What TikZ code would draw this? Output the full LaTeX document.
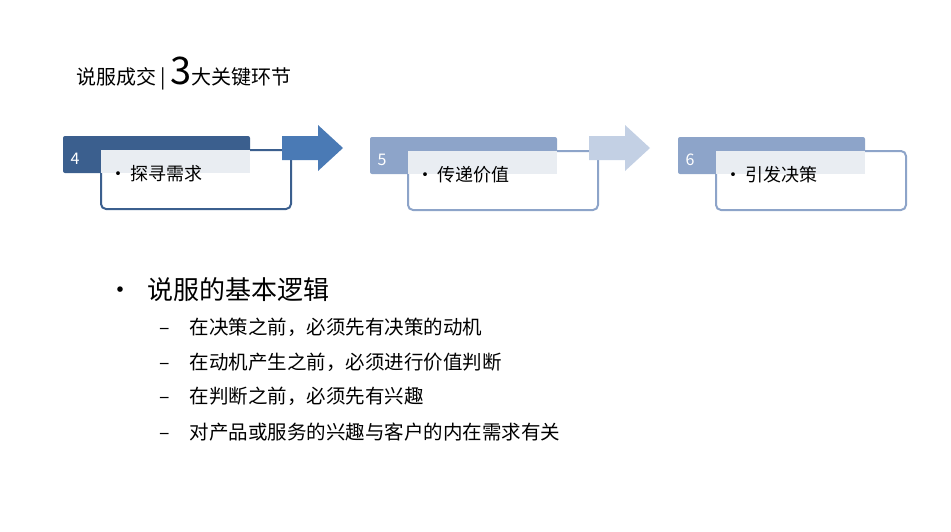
\documentclass[tikz,border=0pt]{standalone}
\usepackage{fontspec}
\setmainfont{Noto Sans CJK SC}
\begin{document}
\begin{tikzpicture}[x=1pt,y=-1pt,
  hdr/.style={rounded corners=2pt},
  card/.style={draw,line width=2pt,rounded corners=5pt,fill=white},
  num/.style={text=white,font=\fontsize{16}{16}\selectfont,anchor=west},
  ctext/.style={font=\fontsize{18}{18}\selectfont,anchor=west},
  item/.style={font=\fontsize{19.5}{20}\selectfont,anchor=west}]
\useasboundingbox (0,0) rectangle (951,531);
\definecolor{dk}{HTML}{3B5F8E}
\definecolor{ar1}{HTML}{4A7AB5}
\definecolor{md}{HTML}{8DA4C9}
\definecolor{ar2}{HTML}{C3D0E4}
\definecolor{ov}{HTML}{E9EDF2}
\newcommand{\stage}[6]{%
  \fill[#4,hdr] (#1,#2) rectangle ++(187,37);
  \node[card,draw=#4,minimum width=190pt,minimum height=59pt,anchor=north west,inner sep=0pt] (c#6) at (#1+37,#2+13) {};
  \fill[ov] (#1+38,#2+14) rectangle (#1+187,#2+37);
  \node[num] (n#6) at (#1+4,#2+23) {#5};
  \node[ctext] (t#6) at (#1+43,#2+38) {\textbullet\,#3};
}
\stage{63}{136}{探寻需求}{dk}{4}{a}
\stage{370}{137}{传递价值}{md}{5}{b}
\stage{678}{137}{引发决策}{md}{6}{c}
\fill[ar1] (282,136) -- (318,136) -- (318,125) -- (343,148) -- (318,171) -- (318,160) -- (282,160) -- cycle;
\fill[ar2] (589,136) -- (625,136) -- (625,125) -- (650,148) -- (625,171) -- (625,160) -- (589,160) -- cycle;
\node[anchor=base west,inner sep=0pt] (title) at (76,84) {\fontsize{20}{20}\selectfont 说服成交 | {\fontsize{38}{38}\selectfont 3}大关键环节};
\node[anchor=west,font=\fontsize{26}{26}\selectfont] (bul) at (104,290) {•\hspace{14pt}说服的基本逻辑};
\node[item] (i1) at (156,327) {–\hspace{20pt}在决策之前，必须先有决策的动机};
\node[item] (i2) at (156,362) {–\hspace{20pt}在动机产生之前，必须进行价值判断};
\node[item] (i3) at (156,396) {–\hspace{20pt}在判断之前，必须先有兴趣};
\node[item] (i4) at (156,432) {–\hspace{20pt}对产品或服务的兴趣与客户的内在需求有关};
\end{tikzpicture}
\end{document}
